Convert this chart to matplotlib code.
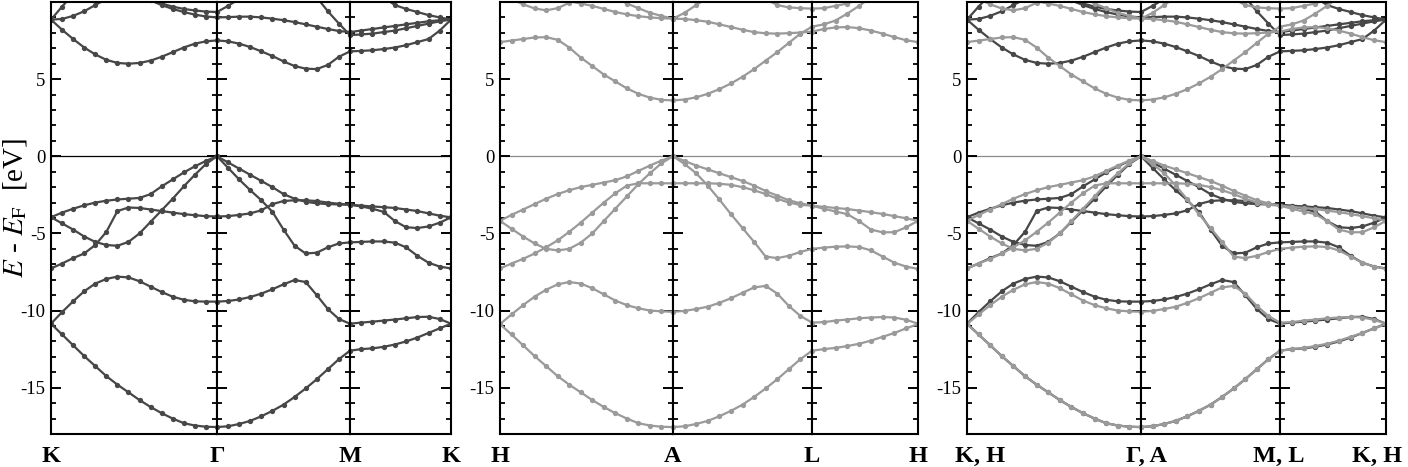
import numpy as np
import matplotlib.pyplot as plt
from matplotlib.ticker import FixedLocator, MultipleLocator

plt.rcParams['font.family'] = ['Liberation Serif', 'DejaVu Serif']
plt.rcParams['mathtext.fontset'] = 'stix'
plt.rcParams['axes.unicode_minus'] = False

# k path: three segments, uniform k-point spacing inside each one
seg_len = [1.0, 0.80, 0.61]
seg_n = [15, 12, 9]
kb = np.concatenate([[0], np.cumsum(seg_len)])
kpts = np.concatenate([np.linspace(kb[0], kb[1], seg_n[0] + 1),
                       np.linspace(kb[1], kb[2], seg_n[1] + 1)[1:],
                       np.linspace(kb[2], kb[3], seg_n[2] + 1)[1:]])

# K - Gamma - M - K  (dark)
dark_v5 = [-10.85, -11.55, -12.25, -12.95, -13.6, -14.25, -14.8, -15.3, -15.8, -16.25, -16.65, -17.0, -17.3, -17.45, -17.53, -17.55,
           -17.5, -17.35, -17.15, -16.85, -16.5, -16.1, -15.6, -15.05, -14.45, -13.8, -13.15, -12.6,
           -12.5, -12.45, -12.35, -12.2, -12.0, -11.75, -11.45, -11.15, -10.85]
dark_v4 = [-10.85, -10.1, -9.4, -8.75, -8.25, -7.95, -7.8, -7.85, -8.1, -8.45, -8.8, -9.1, -9.3, -9.4, -9.42, -9.42,
           -9.38, -9.28, -9.12, -8.9, -8.62, -8.3, -8.02, -8.15, -9.0, -9.9, -10.55, -10.85,
           -10.78, -10.72, -10.65, -10.58, -10.5, -10.42, -10.4, -10.55, -10.85]
dark_v3 = [-7.27, -6.95, -6.6, -6.3, -5.75, -4.9, -3.55, -3.32, -3.35, -3.45, -3.55, -3.65, -3.75, -3.82, -3.88, -3.9,
           -3.88, -3.8, -3.7, -3.5, -3.1, -2.9, -2.85, -2.85, -2.9, -3.0, -3.08, -3.14,
           -3.2, -3.25, -3.3, -3.35, -3.45, -3.55, -3.7, -3.85, -3.96]
dark_v2 = [-3.95, -4.35, -4.75, -5.2, -5.55, -5.75, -5.8, -5.55, -5.0, -4.25, -3.5, -2.75, -1.95, -1.2, -0.5, 0.0,
           -0.75, -1.5, -2.2, -2.85, -3.6, -4.75, -5.8, -6.3, -6.25, -5.9, -5.65, -5.58,
           -5.55, -5.52, -5.52, -5.6, -5.9, -6.45, -6.9, -7.15, -7.27]
dark_v1 = [-3.95, -3.65, -3.4, -3.18, -3.0, -2.88, -2.8, -2.75, -2.7, -2.45, -1.95, -1.5, -1.05, -0.65, -0.3, 0.0,
           -0.4, -0.8, -1.2, -1.6, -2.0, -2.45, -2.75, -2.95, -3.05, -3.1, -3.12, -3.14,
           -3.25, -3.4, -3.6, -4.2, -4.6, -4.65, -4.55, -4.3, -3.96]
dark_c1 = [8.86, 8.2, 7.6, 7.05, 6.6, 6.25, 6.05, 6.0, 6.05, 6.2, 6.45, 6.75, 7.05, 7.3, 7.45, 7.51,
           7.45, 7.3, 7.08, 6.8, 6.5, 6.15, 5.85, 5.68, 5.65, 5.92, 6.45, 6.8,
           6.83, 6.87, 6.95, 7.05, 7.2, 7.4, 7.6, 8.15, 8.86]
dark_c2 = [8.86, 8.9, 9.1, 9.4, 9.8, 10.2, 10.5, 10.6, 10.4, 10.1, 9.8, 9.55, 9.35, 9.18, 9.06, 9.0,
           9.02, 9.05, 9.05, 9.0, 8.92, 8.82, 8.7, 8.55, 8.4, 8.25, 8.12, 8.05,
           8.15, 8.25, 8.35, 8.45, 8.55, 8.65, 8.75, 8.82, 8.86]
dark_c3 = [8.86, 9.7, 10.5, 11.2, 11.5, 11.5, 11.3, 11.0, 10.6, 10.2, 9.9, 9.7, 9.55, 9.45, 9.38, 9.35,
           9.75, 10.2, 10.6, 11.0, 11.3, 11.5, 11.4, 11.0, 10.3, 9.4, 8.6, 7.85,
           7.9, 7.95, 8.05, 8.15, 8.3, 8.45, 8.6, 8.75, 8.86]
dark_c4 = [np.nan] * 28 + [np.nan, 10.9, 10.3, 9.8, 9.55, 9.35, 9.15, 9.0, 8.86]

# H - A - L - H  (light)
light_v5 = [-10.88, -11.55, -12.25, -12.95, -13.6, -14.25, -14.8, -15.3, -15.8, -16.25, -16.65, -17.0, -17.3, -17.45, -17.53, -17.55,
            -17.5, -17.35, -17.15, -16.85, -16.5, -16.1, -15.6, -15.05, -14.45, -13.8, -13.15, -12.6,
            -12.5, -12.42, -12.3, -12.15, -11.95, -11.7, -11.45, -11.15, -10.88]
light_v4 = [-10.88, -10.25, -9.65, -9.1, -8.65, -8.3, -8.15, -8.25, -8.55, -8.95, -9.35, -9.65, -9.85, -10.0, -10.05, -10.08,
            -10.02, -9.9, -9.75, -9.5, -9.2, -8.85, -8.5, -8.4, -8.9, -9.7, -10.35, -10.78,
            -10.75, -10.65, -10.58, -10.5, -10.45, -10.42, -10.45, -10.6, -10.85]
light_v3 = [-7.27, -6.95, -6.65, -6.3, -5.9, -5.45, -4.9, -4.3, -3.65, -3.0, -2.4, -1.9, -1.75, -1.75, -1.75, -1.75,
            -1.75, -1.75, -1.75, -1.78, -1.85, -2.0, -2.2, -2.45, -2.75, -3.0, -3.15, -3.2,
            -3.28, -3.35, -3.42, -3.52, -3.62, -3.74, -3.88, -4.02, -4.18]
light_v2 = [-4.18, -4.7, -5.2, -5.65, -6.0, -6.1, -6.0, -5.6, -5.0, -4.2, -3.4, -2.6, -1.8, -1.1, -0.45, 0.0,
            -0.5, -1.1, -1.9, -2.8, -3.75, -4.65, -5.55, -6.5, -6.6, -6.45, -6.2, -6.0,
            -5.92, -5.86, -5.84, -5.88, -6.1, -6.5, -6.9, -7.15, -7.3]
light_v1 = [-4.18, -3.8, -3.45, -3.1, -2.75, -2.45, -2.2, -2.0, -1.85, -1.7, -1.55, -1.3, -0.95, -0.6, -0.28, 0.0,
            -0.3, -0.6, -0.85, -1.1, -1.35, -1.6, -1.9, -2.25, -2.55, -2.85, -3.05, -3.2,
            -3.4, -3.58, -3.75, -4.2, -4.75, -4.93, -4.92, -4.6, -4.18]
light_c1 = [7.4, 7.5, 7.6, 7.7, 7.72, 7.55, 7.05, 6.4, 5.85, 5.3, 4.85, 4.4, 4.05, 3.8, 3.66, 3.62,
            3.68, 3.82, 4.05, 4.35, 4.72, 5.15, 5.65, 6.2, 6.75, 7.35, 7.95, 8.4,
            8.55, 8.8, 9.25, 9.75, 10.3, 10.8, 11.2, 11.5, 11.6]
light_c2 = [10.8, 10.7, 10.6, 10.5, 10.35, 10.2, 10.05, 9.9, 9.75, 9.55, 9.35, 9.2, 9.08, 9.0, 8.95, 8.92,
            8.9, 8.82, 8.72, 8.55, 8.38, 8.2, 8.05, 7.97, 7.95, 7.98, 8.02, 8.08,
            8.25, 8.35, 8.38, 8.3, 8.15, 7.95, 7.72, 7.52, 7.4]
light_c3 = [10.6, 10.2, 9.85, 9.58, 9.46, 9.6, 9.95, 10.4, 10.8, 10.6, 10.3, 9.9, 9.6, 9.3, 9.1, 8.92,
            9.3, 9.8, 10.3, 10.8, 11.0, 11.0, 10.8, 10.2, 9.8, 9.65, 9.6, 9.57,
            9.6, 9.75, 9.9, 10.2, 10.5, 10.8, 11.0, 11.0, 11.0]

dark_bands = [dark_v5, dark_v4, dark_v3, dark_v2, dark_v1, dark_c1, dark_c2, dark_c3, dark_c4]
light_bands = [light_v5, light_v4, light_v3, light_v2, light_v1, light_c1, light_c2, light_c3]

labels_1 = ['K', 'Γ', 'M', 'K']
labels_2 = ['H', 'A', 'L', 'H']
labels_3 = ['K, H', 'Γ, A', 'M, L', 'K, H']

dark = '#474747'
light = '#9a9a9a'

W, H = 1408, 467
fig = plt.figure(figsize=(W / 100, H / 100), dpi=100)
y_bot, y_top = 434, 2


def draw_panel(edges, sets, zero_col, labels, shifts):
    for s in range(3):
        ax = fig.add_axes([edges[s] / W, 1 - y_bot / H, (edges[s + 1] - edges[s]) / W, (y_bot - y_top) / H])
        ax.axhline(0, color=zero_col, lw=0.9, zorder=1)
        for bands, col in sets:
            for b in bands:
                ax.plot(kpts, b, '-o', color=col, lw=1.6, ms=3.8, mew=0, zorder=2)
        ax.set_xlim(kb[s], kb[s + 1])
        ax.set_ylim(-18, 10)
        ax.set_xticks([])
        ax.yaxis.set_major_locator(FixedLocator([-15, -10, -5, 0, 5]))
        ax.yaxis.set_minor_locator(MultipleLocator(1))
        ax.tick_params(axis='y', which='both', direction='in', left=True, right=True,
                       labelleft=(s == 0), labelsize=13.5, pad=4)
        ax.tick_params(axis='y', which='major', length=7.5, width=1.4)
        ax.tick_params(axis='y', which='minor', length=3.8, width=1.3)
        for sp in ax.spines.values():
            sp.set_linewidth(1.5)
    for i, lab in enumerate(labels):
        fig.text((edges[i] + shifts[i]) / W, 1 - 456 / H, lab, ha='center', va='center',
                 fontsize=17.5, fontweight='bold')


draw_panel([51, 217, 350, 451], [(dark_bands, dark)], 'black', labels_1, [0, 0, 0, 0])
draw_panel([500, 673, 812, 918], [(light_bands, light)], '#8a8a8a', labels_2, [0, 0, 0, 0])
draw_panel([967, 1141, 1280, 1386], [(dark_bands, dark), (light_bands, light)], '#8a8a8a', labels_3, [13, 5, -1, -9])

fig.text(15 / W, 1 - 208 / H, r'$E$ - $E_{\rm F}$  [eV]', rotation=90, ha='center', va='center', fontsize=21)

fig.savefig('out.png', dpi=100)
